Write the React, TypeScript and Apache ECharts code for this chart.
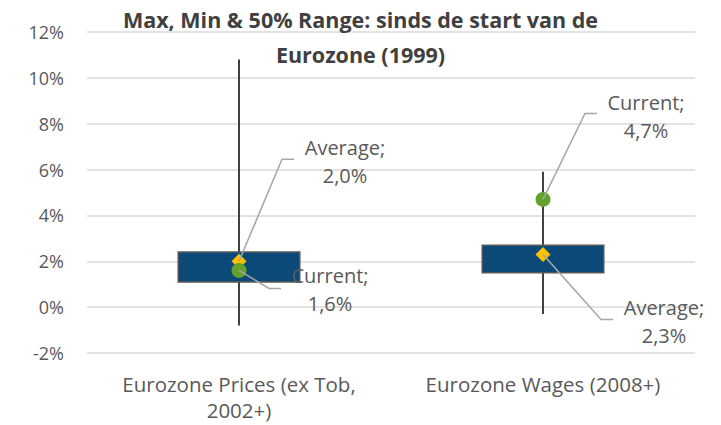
import React, { useEffect, useRef } from "react";
import * as echarts from "echarts";

const categories = ["Eurozone Prices (ex Tob,\n2002+)", "Eurozone Wages (2008+)"];
const minVals = [-0.8, -0.3];
const q1Vals = [1.1, 1.5];
const q3Vals = [2.4, 2.7];
const maxVals = [10.8, 5.9];
const averages = [2.0, 2.3];
const currents = [1.6, 4.7];
const yTicks = { min: -2, max: 12, interval: 2 };
const titleLines = ["Max, Min & 50% Range: sinds de start van de", "Eurozone (1999)"];

// annotation layout (pixel offsets from the marker): elbow, end of leader line, text centre
const avgLayout = [
  { ex: 43, ey: -102, hx: 55, tx: 106, ty: -100 },
  { ex: 58, ey: 65, hx: 70, tx: 121, ty: 67 },
];
const curLayout = [
  { ex: 30, ey: 18, hx: 42, tx: 91, ty: 19 },
  { ex: 42, ey: -86, hx: 54, tx: 103, ty: -83 },
];

const FONT = "Open Sans";
const TXT = "#595959";

function fmt(v: number) {
  return v.toFixed(1).replace(".", ",") + "%";
}

function annotation(name: string, vals: number[], layout: any[]) {
  return {
    type: "custom",
    name: name + "Label",
    clip: false,
    z: 5,
    silent: true,
    data: vals.map((v, i) => [i, v]),
    renderItem: (params: any, api: any) => {
      const i = params.dataIndex;
      const L = layout[i];
      const p = api.coord([api.value(0), api.value(1)]);
      return {
        type: "group",
        children: [
          {
            type: "polyline",
            shape: {
              points: [
                [p[0], p[1]],
                [p[0] + L.ex, p[1] + L.ey],
                [p[0] + L.hx, p[1] + L.ey],
              ],
            },
            style: { stroke: "#A6A6A6", lineWidth: 1.5, fill: "none" },
          },
          {
            type: "text",
            x: p[0] + L.tx,
            y: p[1] + L.ty,
            style: {
              text: name + ";\n" + fmt(vals[i]),
              fill: TXT,
              fontFamily: FONT,
              fontSize: 20,
              lineHeight: 28,
              align: "center",
              verticalAlign: "middle",
            },
          },
        ],
      };
    },
  };
}

export default function App() {
  const ref = useRef<HTMLDivElement>(null);
  useEffect(() => {
    if (!ref.current) return;
    const chart = echarts.init(ref.current, null, { renderer: "svg" });
    chart.setOption({
      animation: false,
      backgroundColor: "#ffffff",
      textStyle: { fontFamily: FONT },
      title: {
        text: titleLines.join("\n"),
        left: "center",
        top: -3,
        textStyle: {
          fontFamily: FONT,
          fontSize: 21.5,
          fontWeight: "bold",
          color: "#404040",
          lineHeight: 35,
        },
      },
      grid: { left: 87, right: 26, top: 32, bottom: 72 },
      xAxis: {
        type: "category",
        data: categories,
        axisLine: { show: false },
        axisTick: { show: false },
        axisLabel: {
          color: TXT,
          fontSize: 20.5,
          fontFamily: FONT,
          lineHeight: 26,
          margin: 18,
          interval: 0,
        },
      },
      yAxis: {
        type: "value",
        min: yTicks.min,
        max: yTicks.max,
        interval: yTicks.interval,
        axisLine: { show: false },
        axisTick: { show: false },
        splitLine: { lineStyle: { color: "#D9D9D9", width: 1.5 } },
        axisLabel: {
          formatter: "{value}%",
          color: TXT,
          fontSize: 18,
          fontFamily: FONT,
          margin: 23,
        },
      },
      series: [
        {
          type: "custom",
          name: "Range",
          data: categories.map((_, i) => [i, minVals[i], q1Vals[i], q3Vals[i], maxVals[i]]),
          encode: { x: 0, y: [1, 2, 3, 4] },
          z: 2,
          renderItem: (params: any, api: any) => {
            const x = api.value(0);
            const pMin = api.coord([x, api.value(1)]);
            const pQ1 = api.coord([x, api.value(2)]);
            const pQ3 = api.coord([x, api.value(3)]);
            const pMax = api.coord([x, api.value(4)]);
            const bw = api.size([1, 0])[0] * 0.4;
            return {
              type: "group",
              children: [
                {
                  type: "line",
                  shape: { x1: pMin[0], y1: pMin[1], x2: pMax[0], y2: pMax[1] },
                  style: { stroke: "#404040", lineWidth: 2 },
                },
                {
                  type: "rect",
                  shape: { x: pQ3[0] - bw / 2, y: pQ3[1], width: bw, height: pQ1[1] - pQ3[1] },
                  style: { fill: "#0B4A78", stroke: "#595959", lineWidth: 1.5 },
                },
              ],
            };
          },
        },
        {
          type: "scatter",
          name: "Average",
          data: averages.map((v, i) => [i, v]),
          symbol: "diamond",
          symbolSize: [15, 15],
          itemStyle: { color: "#FFC000", opacity: 1 },
          z: 4,
        },
        {
          type: "scatter",
          name: "Current",
          data: currents.map((v, i) => [i, v]),
          symbol: "circle",
          symbolSize: 15,
          itemStyle: { color: "#62A12C", opacity: 1 },
          z: 4,
        },
        annotation("Average", averages, avgLayout),
        annotation("Current", currents, curLayout),
      ],
    });
    return () => chart.dispose();
  }, []);
  return (
    <div
      ref={ref}
      style={{ position: "absolute", left: 0, top: 0, width: 721, height: 425 }}
    />
  );
}
